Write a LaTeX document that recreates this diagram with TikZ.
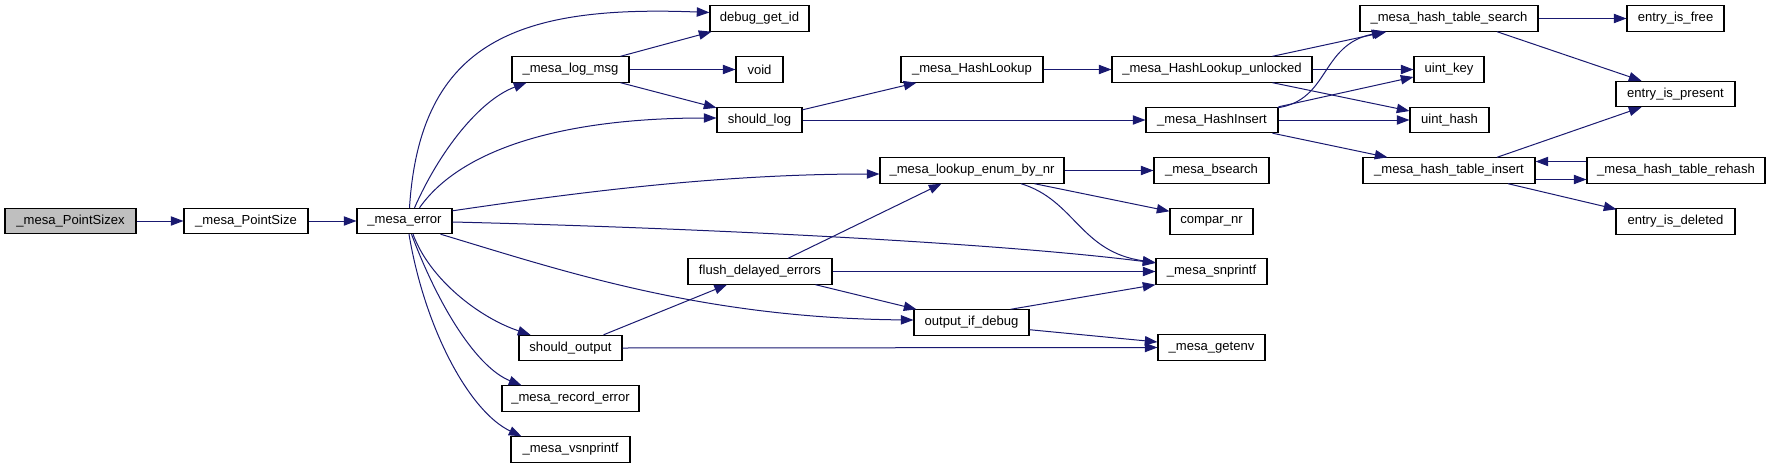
\documentclass[tikz,border=0pt]{standalone}
\usepackage{fontspec}
\setmainfont{Liberation Sans}
\usetikzlibrary{arrows.meta,calc}
\definecolor{edgec}{HTML}{191970}
\definecolor{rootc}{HTML}{BFBFBF}
\tikzset{
  fn/.style={rectangle, draw=black, fill=white, line width=0.8pt, inner sep=0pt,
    minimum height=19pt, font=\fontsize{9.8}{11}\selectfont},
  call/.style={draw=edgec, line width=0.75pt, -{Triangle[length=9.5pt,width=7pt]}, color=edgec},
}
\begin{document}
\begin{tikzpicture}[x=0.75pt,y=-0.75pt]
\useasboundingbox (0,0) rectangle (1771,468);
% nodes (px coordinates)
\node[fn, fill=rootc, minimum width=98.25pt] (psx) at (70.5,221) {\_mesa\_PointSizex};
\node[fn, minimum width=93pt] (ps) at (246,221) {\_mesa\_PointSize};
\node[fn, minimum width=71.25pt] (err) at (404.5,221) {\_mesa\_error};
\node[fn, minimum width=74.25pt] (dbg) at (759.5,18.5) {debug\_get\_id};
\node[fn, minimum width=87.75pt] (log) at (570.5,69.5) {\_mesa\_log\_msg};
\node[fn, minimum width=35.25pt] (void) at (759.5,69.5) {void};
\node[fn, minimum width=63.75pt] (slog) at (759.5,120) {should\_log};
\node[fn, minimum width=108pt] (flush) at (760,271.5) {flush\_delayed\_errors};
\node[fn, minimum width=77.25pt] (sout) at (570.5,348) {should\_output};
\node[fn, minimum width=102.75pt] (rec) at (570.5,398.5) {\_mesa\_record\_error};
\node[fn, minimum width=89.25pt] (vsn) at (570.5,449.5) {\_mesa\_vsnprintf};
\node[fn, minimum width=106.5pt] (hl) at (972,69.5) {\_mesa\_HashLookup};
\node[fn, minimum width=150pt] (hlu) at (1212,69.5) {\_mesa\_HashLookup\_unlocked};
\node[fn, minimum width=99pt] (hi) at (1212,120) {\_mesa\_HashInsert};
\node[fn, minimum width=138pt] (lenum) at (972,170.5) {\_mesa\_lookup\_enum\_by\_nr};
\node[fn, minimum width=86.25pt] (bs) at (1211.5,170.5) {\_mesa\_bsearch};
\node[fn, minimum width=62.25pt] (cmp) at (1211.5,221.5) {compar\_nr};
\node[fn, minimum width=83.25pt] (snp) at (1211.5,271.5) {\_mesa\_snprintf};
\node[fn, minimum width=86.25pt] (oid) at (971.5,322.5) {output\_if\_debug};
\node[fn, minimum width=80.25pt] (genv) at (1211.5,347.5) {\_mesa\_getenv};
\node[fn, minimum width=133.5pt] (hts) at (1449,18.5) {\_mesa\_hash\_table\_search};
\node[fn, minimum width=52.5pt] (uk) at (1449,69.5) {uint\_key};
\node[fn, minimum width=59.25pt] (uh) at (1449.5,120) {uint\_hash};
\node[fn, minimum width=129pt] (hti) at (1449,170.5) {\_mesa\_hash\_table\_insert};
\node[fn, minimum width=72.75pt] (free) at (1675.5,18.5) {entry\_is\_free};
\node[fn, minimum width=89.25pt] (pres) at (1675.5,94) {entry\_is\_present};
\node[fn, minimum width=133.5pt] (reh) at (1676,170.5) {\_mesa\_hash\_table\_rehash};
\node[fn, minimum width=89.25pt] (del) at (1675.5,221.5) {entry\_is\_deleted};
% edges
\draw[call] (psx.east) -- (ps.west);
\draw[call] (ps.east) -- (err.west);
\draw[call] ($(err.north)+(5,0)$) .. controls (420,40) and (520,5) .. ($(dbg.west)+(0,-6)$);
\draw[call] ($(err.north)+(10,0)$) .. controls (440,150) and (480,100) .. ($(log.south west)+(15,0)$);
\draw[call] ($(err.north)+(15,0)$) .. controls (460,150) and (560,118) .. ($(slog.west)+(0,-2)$);
\draw[call] ($(err.north east)+(0,3)$) .. controls (580,192) and (720,174) .. ($(lenum.west)+(0,3.5)$);
\draw[call] ($(err.east)+(0,1)$) .. controls (700,228) and (1000,243) .. ($(snp.west)+(0,-8.5)$);
\draw[call] ($(err.south east)+(-12,0)$) .. controls (560,270) and (700,318) .. ($(oid.west)+(0,-2.5)$);
\draw[call] ($(err.south)+(8.5,0)$) .. controls (430,280) and (480,318) .. ($(sout.north west)+(12,0)$);
\draw[call] ($(err.south)+(7,0)$) .. controls (440,310) and (478,368) .. ($(rec.north west)+(20,0)$);
\draw[call] ($(err.south)+(4.5,0)$) .. controls (425,330) and (470,412) .. ($(vsn.north west)+(11,0)$);
\draw[call] ($(log.north east)+(-9,0)$) -- ($(dbg.south west)+(2,0)$);
\draw[call] (log.east) -- (void.west);
\draw[call] ($(log.south east)+(-9,0)$) -- ($(slog.north west)+(0,1)$);
\draw[call] ($(slog.north east)+(0,3)$) -- ($(hl.south west)+(16,0)$);
\draw[call] (slog.east) -- (hi.west);
\draw[call] (hl.east) -- (hlu.west);
\draw[call] ($(hlu.north east)+(-40,0)$) -- ($(hts.south west)+(27,0)$);
\draw[call] (hlu.east) -- (uk.west);
\draw[call] ($(hlu.south east)+(-40,0)$) -- ($(uh.west)+(0,-9)$);
\draw[call] ($(hi.north east)+(-1,1)$) .. controls (1330,100) and (1320,45) .. ($(hts.south west)+(25,0)$);
\draw[call] (hi.north east) -- ($(uk.west)+(0,7.5)$);
\draw[call] (hi.east) -- (uh.west);
\draw[call] ($(hi.south east)+(-6,0)$) -- ($(hti.north west)+(25,0)$);
\draw[call] (hts.east) -- (free.west);
\draw[call] ($(hts.south)+(48,0)$) -- ($(pres.north)+(-34,0)$);
\draw[call] ($(hti.north)+(48,0)$) -- ($(pres.south)+(-34,0)$);
\draw[call] ($(hti.east)+(0,9)$) -- ($(reh.west)+(0,9)$);
\draw[call] ($(reh.west)+(0,-9)$) -- ($(hti.east)+(0,-9)$);
\draw[call] ($(hti.south)+(59,0)$) -- ($(del.north west)+(1,1)$);
\draw[call] (lenum.east) -- (bs.west);
\draw[call] ($(lenum.south east)+(-30,0)$) -- ($(cmp.north west)+(0,3)$);
\draw[call] ($(lenum.south)+(49,0)$) .. controls (1075,200) and (1080,252) .. ($(snp.west)+(0,-9)$);
\draw[call] ($(flush.north)+(28,0)$) -- ($(lenum.south west)+(62,0)$);
\draw[call] (flush.east) -- (snp.west);
\draw[call] ($(flush.south east)+(-17,0)$) -- ($(oid.north west)+(3,0)$);
\draw[call] ($(sout.north east)+(-19,0)$) -- ($(flush.south)+(-33,0)$);
\draw[call] (sout.east) -- (genv.west);
\draw[call] ($(oid.north east)+(-19,0)$) -- (snp.south west);
\draw[call] ($(oid.south east)+(0,-6)$) -- ($(genv.west)+(0,-5.5)$);
\end{tikzpicture}
\end{document}
